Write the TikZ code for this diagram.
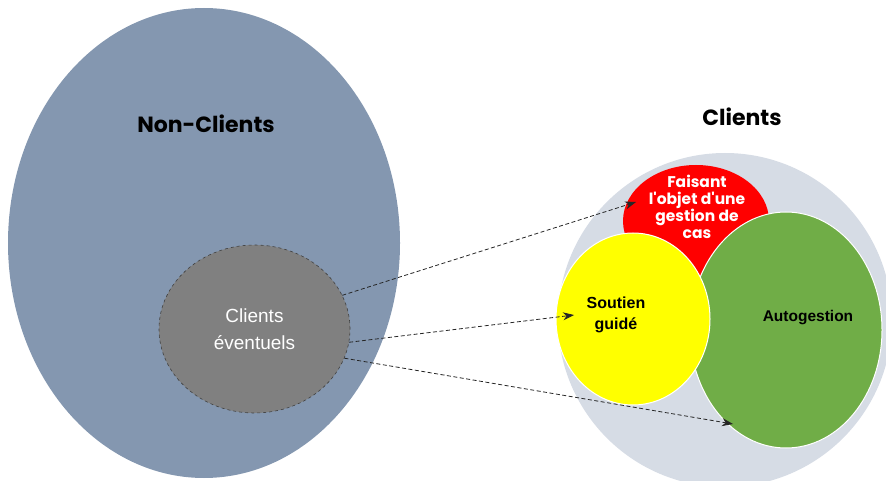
\documentclass[tikz,border=0pt]{standalone}
\usepackage{fontspec}
\setmainfont{Liberation Sans}
\newfontfamily\headfont{Poppins}
\usepackage{xcolor}
\usetikzlibrary{shapes.geometric,arrows.meta}
\definecolor{nonclientblue}{HTML}{8497B0}
\definecolor{clientgray}{HTML}{D6DCE5}
\definecolor{prospectgray}{HTML}{808080}
\definecolor{selfgreen}{HTML}{70AD47}
\definecolor{guideyellow}{HTML}{FFFF00}
\tikzset{
  blob/.style={ellipse,inner sep=0pt,draw=none},
  ringblob/.style={ellipse,inner sep=0pt,draw=white,line width=1pt},
  headtext/.style={font=\headfont\bfseries\fontsize{22}{24}\selectfont},
  linkarrow/.style={draw=black!85,dashed,line width=0.8pt,dash pattern=on 4pt off 2.5pt,-{Stealth[length=11pt,width=8pt]}}
}

\begin{document}
\begin{tikzpicture}[x=1pt,y=-1pt]
    \useasboundingbox (0,0) rectangle (886,481);
    \clip (0,0) rectangle (886,481);
    % non-clients
    \node[blob,fill=nonclientblue,minimum width=392,minimum height=470] (nonclients) at (204,243) {};
    \node[headtext] (nonclientslabel) at (206,124) {Non-Clients};
    \node[blob,fill=prospectgray,draw=black!75,dashed,line width=0.6pt,minimum width=191,minimum height=168,
      align=center,text=white,font=\fontsize{19}{27}\selectfont] (eventuels) at (254.5,329) {Clients\\éventuels};
    % clients
    \node[blob,fill=clientgray,minimum width=334,minimum height=334] (clients) at (725,320) {};
    \node[headtext] (clientslabel) at (742,117) {Clients};
    \node[blob,fill=red,minimum width=146,minimum height=112] (casmgmt) at (696,221) {};
    \node[ringblob,fill=selfgreen,minimum width=192,minimum height=236] (autogestion) at (786,330) {};
    \node[ringblob,fill=guideyellow,minimum width=154,minimum height=172] (soutien) at (633,319) {};
    \node[align=center,text=white,font=\headfont\bfseries\fontsize{15.5}{17}\selectfont] (casmgmtlabel) at (697,207)
      {Faisant\\l'objet d'une\\gestion de\\cas};
    \node[align=center,font=\bfseries\fontsize{16}{21}\selectfont] (soutienlabel) at (616,315) {Soutien\\guidé};
    \node[font=\bfseries\fontsize{15.5}{17}\selectfont] (autogestionlabel) at (808,318) {Autogestion};
    % links
    \coordinate (toCas) at (636,202);
    \coordinate (toSoutien) at (574,315);
    \coordinate (toAuto) at (733,424);
    \draw[linkarrow] (eventuels.21) -- (toCas);
    \draw[linkarrow] (eventuels.-8) -- (toSoutien);
    \draw[linkarrow] (eventuels.-18) -- (toAuto);
\end{tikzpicture}
\end{document}
